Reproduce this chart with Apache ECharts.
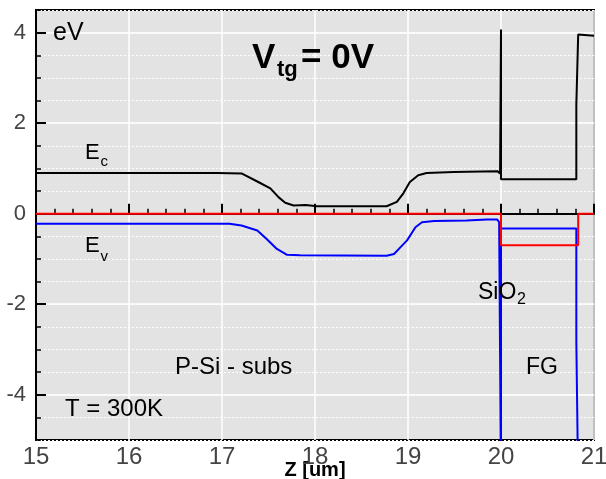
<!DOCTYPE html>
<html>
<head>
<meta charset="utf-8">
<script src="https://cdn.jsdelivr.net/npm/echarts@6/dist/echarts.min.js"></script>
<style>
html, body { margin: 0; padding: 0; background: #fff; }
#chart_main { width: 606px; height: 479px; }
</style>
</head>
<body>
<div id="chart_main"></div>
<script>
// conduction band Ec
var ecZ = [15, 16.95, 16.96, 17.21, 17.39, 17.52, 17.61, 17.68, 17.77, 17.9, 18.02, 18.77, 18.88, 18.95, 19.02, 19.11, 19.2, 19.49, 19.96, 19.99, 20.0, 20.0, 20.0, 20.81, 20.81, 20.83, 20.83, 21];
var ecE = [0.90, 0.90, 0.89, 0.89, 0.70, 0.56, 0.36, 0.24, 0.18, 0.19, 0.165, 0.165, 0.26, 0.45, 0.70, 0.85, 0.90, 0.92, 0.94, 0.89, 0.89, 4.07, 0.76, 0.76, 2.41, 2.41, 3.96, 3.93];
// valence band Ev
var evZ = [15, 17.08, 17.21, 17.38, 17.48, 17.59, 17.7, 17.84, 18.77, 18.85, 18.92, 18.99, 19.08, 19.15, 19.28, 19.63, 19.85, 19.96, 19.98, 20.0, 20.0, 20.0, 20.81, 20.81, 20.83, 20.83];
var evE = [-0.22, -0.22, -0.26, -0.37, -0.56, -0.78, -0.91, -0.92, -0.93, -0.89, -0.74, -0.59, -0.30, -0.19, -0.16, -0.15, -0.13, -0.13, -0.19, -0.19, -6, -0.33, -0.33, -2.82, -2.82, -6];
// fermi level
var efZ = [15, 20.0, 20.0, 20.83, 20.83, 21];
var efE = [0, 0, -0.7, -0.7, 0, 0];

var yMajor = [-4, -2, 0, 2, 4];

function zip(xs, ys) {
    var out = [];
    for (var i = 0; i < xs.length; i++) out.push([xs[i], ys[i]]);
    return out;
}

var font = 'Liberation Sans, Arial, sans-serif';

function txt(s, x, y, size, bold) {
    return {
        type: 'text', x: x, y: y, z: 100,
        style: {
            text: s, fill: '#000', verticalAlign: 'middle',
            font: (bold ? 'bold ' : '') + size + 'px ' + font
        }
    };
}

var myChart = echarts.init(document.getElementById('chart_main'));
var option = {
    animation: false,
    grid: {
        left: 36, right: 12, top: 10, bottom: 39,
        outerBoundsMode: 'none',
        containLabel: false,
        show: true,
        backgroundColor: '#e3e3e3',
        borderColor: '#000',
        borderWidth: 2
    },
    xAxis: {
        type: 'value',
        min: 15, max: 21, interval: 1,
        name: 'Z [um]',
        nameLocation: 'middle',
        nameGap: 20,
        nameMoveOverlap: false,
        nameTextStyle: { fontFamily: font, fontWeight: 'bold', fontSize: 20, color: '#000', verticalAlign: 'top' },
        axisLine: { lineStyle: { color: '#000', width: 2 } },
        axisTick: { inside: true, length: 10, lineStyle: { color: '#000', width: 2 } },
        minorTick: { show: true, splitNumber: 5, length: 5, lineStyle: { color: '#000', width: 1.5 } },
        axisLabel: { fontFamily: font, fontSize: 24, color: '#444', margin: 5 },
        splitLine: { show: true, lineStyle: { color: '#fff', width: 1.5 } }
    },
    yAxis: [{
        type: 'value',
        min: -5, max: 4.5, interval: 0.5,
        axisLine: { show: true, lineStyle: { color: '#000', width: 2 } },
        axisTick: { show: true, inside: true, length: 5, lineStyle: { color: '#000', width: 1.5 } },
        axisLabel: {
            fontFamily: font, fontSize: 22, color: '#444', margin: 10,
            formatter: function (v) { return v % 2 === 0 ? String(v) : ''; }
        },
        splitLine: { show: true, lineStyle: { color: '#fff', width: 1, type: [2, 2] } }
    }, {
        type: 'value',
        min: -5, max: 4.5, interval: 0.5,
        position: 'left',
        axisLine: { show: false },
        axisLabel: { show: false },
        axisTick: { show: true, inside: true, length: 10, customValues: yMajor, lineStyle: { color: '#000', width: 2 } },
        splitLine: { show: true, lineStyle: { color: '#fff', width: 1.5 } }
    }],
    series: [{
        type: 'line', data: zip(ecZ, ecE), showSymbol: false,
        lineStyle: { color: '#000', width: 2 }
    }, {
        type: 'line', data: zip(evZ, evE), showSymbol: false,
        lineStyle: { color: '#0000ff', width: 2 }
    }, {
        type: 'line', data: zip(efZ, efE), showSymbol: false,
        lineStyle: { color: '#ff0000', width: 2 }
    }],
    graphic: [
        txt('eV', 53, 33, 25, false),
        txt('V', 252, 58, 35, true),
        txt('tg', 277, 70, 22, true),
        txt('= 0V', 301, 58, 35, true),
        txt('E', 85, 153, 22, false),
        txt('c', 100.5, 161.6, 15, false),
        txt('E', 85, 246, 22, false),
        txt('v', 100.5, 256.6, 15, false),
        txt('SiO', 478, 292.4, 23, false),
        txt('2', 517, 299.2, 16, false),
        txt('P-Si - subs', 175, 367.7, 24, false),
        txt('FG', 526, 367.7, 23, false),
        txt('T = 300K', 65, 409.7, 24, false)
    ]
};
myChart.setOption(option);
</script>
</body>
</html>
